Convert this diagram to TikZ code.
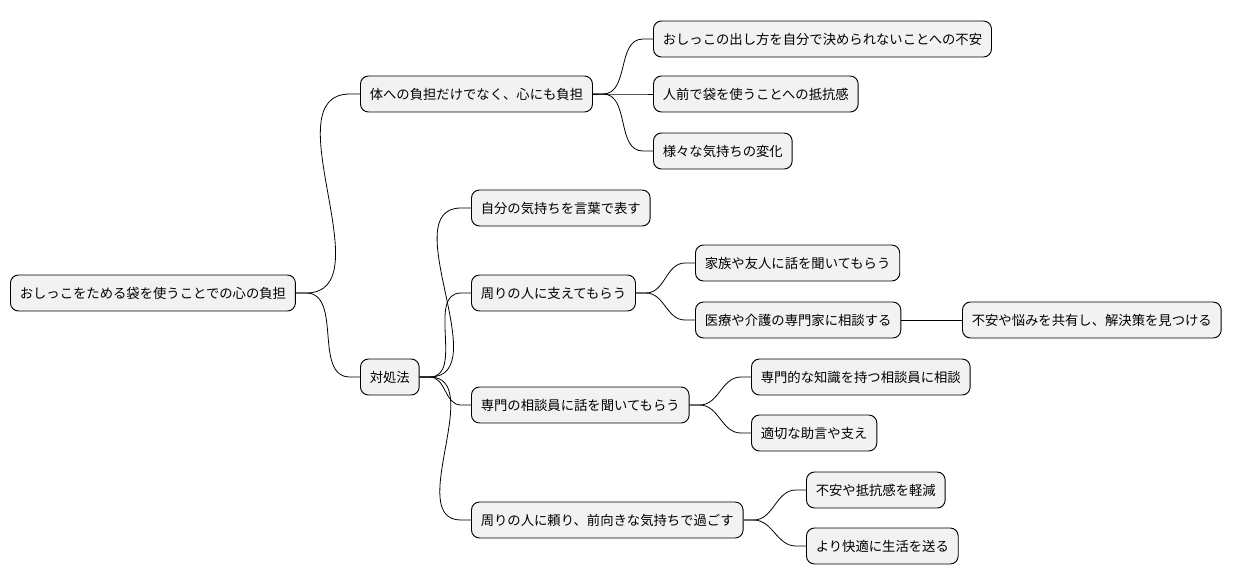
\documentclass[tikz,border=0pt]{standalone}
\usepackage{fontspec}
\setmainfont{Noto Sans CJK JP}
\usetikzlibrary{positioning}

\tikzset{
  topic/.style={draw, fill=gray!10, rounded corners=6pt, line width=0.7pt,
                minimum height=27pt, inner xsep=7pt, anchor=west, font=\fontsize{10}{12}\selectfont},
  branch/.style={line width=0.6pt}
}

\begin{document}
\begin{tikzpicture}[x=0.75pt,y=-0.75pt]
        \useasboundingbox (0,0) rectangle (1244,583);

        % root
        \node[topic] (root) at (10,293) {おしっこをためる袋を使うことでの心の負担};

        % first level
        \node[topic] (body) at (360,94) {体への負担だけでなく、心にも負担};
        \node[topic] (cope) at (360,377) {対処法};

        % body branch
        \node[topic] (worry) at (653,39) {おしっこの出し方を自分で決められないことへの不安};
        \node[topic] (shame) at (653,94) {人前で袋を使うことへの抵抗感};
        \node[topic] (mood) at (653,151) {様々な気持ちの変化};

        % coping branch
        \node[topic] (words) at (471,208) {自分の気持ちを言葉で表す};
        \node[topic] (support) at (471,293) {周りの人に支えてもらう};
        \node[topic] (family) at (695,263) {家族や友人に話を聞いてもらう};
        \node[topic] (expert) at (695,320) {医療や介護の専門家に相談する};
        \node[topic] (share) at (962,320) {不安や悩みを共有し、解決策を見つける};
        \node[topic] (counsel) at (471,405) {専門の相談員に話を聞いてもらう};
        \node[topic] (know) at (751,377) {専門的な知識を持つ相談員に相談};
        \node[topic] (advice) at (751,433) {適切な助言や支え};
        \node[topic] (rely) at (471,520) {周りの人に頼り、前向きな気持ちで過ごす};
        \node[topic] (ease) at (806,490) {不安や抵抗感を軽減};
        \node[topic] (life) at (806,546) {より快適に生活を送る};

        % connectors
        \foreach \p/\c in {root/body, root/cope, body/worry, body/shame, body/mood,
                           cope/words, cope/support, cope/counsel, cope/rely,
                           support/family, support/expert, expert/share,
                           counsel/know, counsel/advice, rely/ease, rely/life}
          \draw[branch] (\p.east) -- ++(10,0) to[out=0,in=180] ([xshift=-7.5pt]\c.west) -- (\c.west);
    \end{tikzpicture}
\end{document}
